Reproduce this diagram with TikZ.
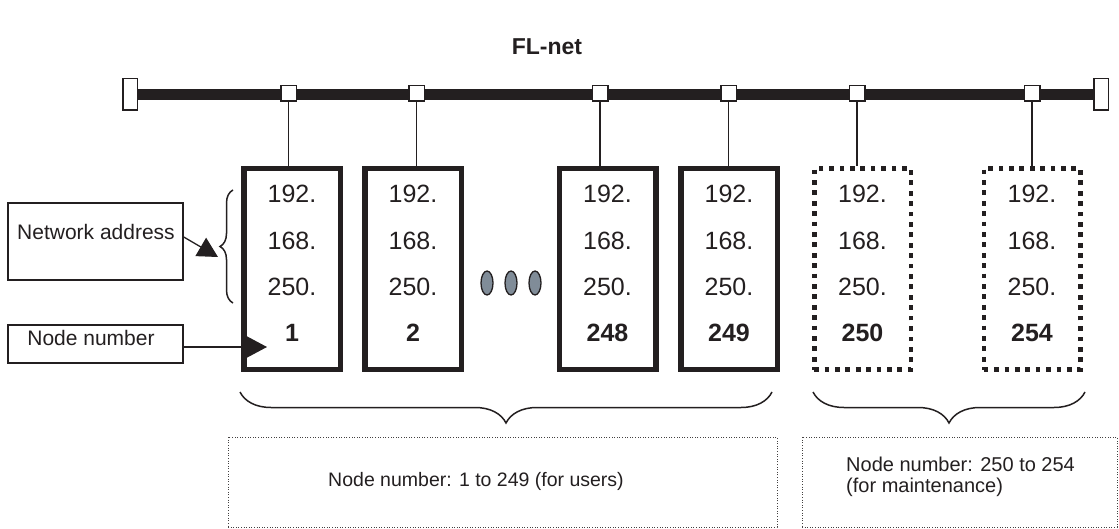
\documentclass[tikz,border=0pt]{standalone}
\usepackage{fontspec}
\setmainfont{Liberation Sans}
\usetikzlibrary{arrows.meta,decorations.pathreplacing,shapes.geometric}
\definecolor{ink}{RGB}{35,31,32}
\definecolor{dotgray}{RGB}{128,140,152}
\begin{document}
\begin{tikzpicture}[x=1pt,y=-1pt,
  solidbox/.style={draw=ink, line width=5.5pt, minimum width=96.5pt, minimum height=200.5pt, inner sep=0pt},
  dotbox/.style={draw=ink, line width=4.5pt, dash pattern=on 4.7pt off 5.7pt, minimum width=96.5pt, minimum height=201pt, inner sep=0pt},
  iptext/.style={font=\fontsize{25}{30}\selectfont, text=ink, inner sep=0pt},
  numtext/.style={font=\fontsize{25}{30}\selectfont\bfseries, text=ink, inner sep=0pt},
  port/.style={draw=ink, fill=white, line width=1.5pt, minimum size=15.5pt, inner sep=0pt},
  endcap/.style={draw=ink, fill=white, line width=1.5pt, minimum width=14.5pt, minimum height=31.5pt, inner sep=0pt},
  drop/.style={draw=ink, line width=1.5pt},
  labelbox/.style={draw=ink, line width=1.5pt, inner sep=0pt},
  labeltext/.style={font=\fontsize{21}{24}\selectfont, text=ink, inner sep=0pt},
  notebox/.style={draw=ink!85, line width=1pt, dash pattern=on 1pt off 1.6pt, inner sep=0pt},
  notetext/.style={font=\fontsize{20}{21}\selectfont, text=ink, inner sep=0pt},
  bigarrow/.style={draw=ink, line width=1.3pt, -{Triangle[length=20pt,width=21pt]}},
  bracestyle/.style={draw=ink, line width=1.5pt, decorate}
]
\useasboundingbox (0,0) rectangle (1119,529);

% title
\node[font=\fontsize{23}{26}\selectfont\bfseries, text=ink] (title) at (547,47) {FL-net};

% bus
\node[endcap] (capL) at (130,94.5) {};
\node[endcap] (capR) at (1101,94.5) {};
\draw[ink, line width=11pt] (capL.east) -- (capR.west);
\node[endcap] at (capL) {};
\node[endcap] at (capR) {};

% ports
\foreach \n/\x in {1/288.5, 2/416.5, 3/600, 4/728.5, 5/857, 6/1032} {
  \node[port] (s\n) at (\x,93.5) {};
}

% station boxes
\node[solidbox] (b1) at (292,269) {};
\node[solidbox] (b2) at (413,269) {};
\node[solidbox] (b3) at (607.5,269) {};
\node[solidbox] (b4) at (729,269) {};
\node[dotbox] (b5) at (862.5,269) {};
\node[dotbox] (b6) at (1032,269) {};

% drops
\foreach \n in {1,...,6} {
  \draw[drop] (s\n.south) -- (s\n.south |- b\n.north);
}

% texts in boxes
\foreach \n/\num in {1/1, 2/2, 3/248, 4/249, 5/250, 6/254} {
  \node[iptext] (t\n a) at (b\n |- 0,194) {192.};
  \node[iptext] (t\n b) at (b\n |- 0,240.5) {168.};
  \node[iptext] (t\n c) at (b\n |- 0,287) {250.};
  \node[numtext] (t\n d) at (b\n |- 0,333) {\num};
}

% dots between boxes
\foreach \n/\x in {1/487, 2/511, 3/535} {
  \node[ellipse, draw=ink, fill=dotgray, line width=1.3pt, minimum width=12pt, minimum height=24pt, inner sep=0pt] (e\n) at (\x,283) {};
}

% network address label
\node[labelbox, minimum width=175pt, minimum height=77pt] (na) at (95.5,241.5) {};
\node[labeltext] (natext) at (96,232) {Network address};
\coordinate (natip) at (218,257);
\draw[bigarrow] (na.east |- 0,237) -- (natip);
\coordinate (braceLtop) at (233,190);
\coordinate (braceLbot) at (233,303);
\draw[bracestyle, decoration={brace, amplitude=13pt}] (braceLbot) -- (braceLtop);

% node number label
\node[labelbox, minimum width=175pt, minimum height=38pt] (nn) at (95.5,344) {};
\node[labeltext] (nntext) at (91,338) {Node number};
\coordinate (nntip) at (267,347);
\draw[bigarrow] (nn.east |- nntip) -- (nntip);

% bottom braces
\coordinate (br1a) at (240,392);
\coordinate (br1b) at (772,392);
\coordinate (br2a) at (813,392);
\coordinate (br2b) at (1085,392);
\draw[bracestyle, decoration={brace, amplitude=31pt}] (br1b) -- (br1a);
\draw[bracestyle, decoration={brace, amplitude=31pt}] (br2b) -- (br2a);

% bottom notes
\node[notebox, minimum width=549pt, minimum height=90pt] (u1) at (502.5,482) {};
\node[notetext, font=\fontsize{19.5}{21}\selectfont] (u1t) at (476,481) {Node number: 1 to 249 (for users)};
\node[notebox, minimum width=315pt, minimum height=90pt] (u2) at (959.5,482) {};
\node[notetext, align=left, anchor=west] (u2t) at (846,477) {Node number: 250 to 254\\(for maintenance)};
\end{tikzpicture}
\end{document}
